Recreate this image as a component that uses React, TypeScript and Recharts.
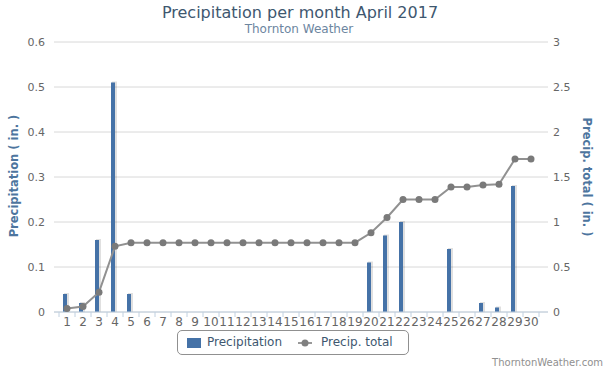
import { ComposedChart, Bar, Line, XAxis, YAxis, CartesianGrid } from 'recharts'

const DAYS = ['1', '2', '3', '4', '5', '6', '7', '8', '9', '10', '11', '12', '13', '14', '15', '16', '17', '18', '19', '20', '21', '22', '23', '24', '25', '26', '27', '28', '29', '30']
const PRECIP = [0.04, 0.02, 0.16, 0.51, 0.04, 0, 0, 0, 0, 0, 0, 0, 0, 0, 0, 0, 0, 0, 0, 0.11, 0.17, 0.2, 0, 0, 0.14, 0, 0.02, 0.01, 0.28, 0]
const TOTAL = [0.04, 0.06, 0.22, 0.73, 0.77, 0.77, 0.77, 0.77, 0.77, 0.77, 0.77, 0.77, 0.77, 0.77, 0.77, 0.77, 0.77, 0.77, 0.77, 0.88, 1.05, 1.25, 1.25, 1.25, 1.39, 1.39, 1.41, 1.42, 1.7, 1.7]
const LEFT_TICKS = [0, 0.1, 0.2, 0.3, 0.4, 0.5, 0.6]
const RIGHT_TICKS = [0, 0.5, 1, 1.5, 2, 2.5, 3]

const data = DAYS.map((d, i) => ({ day: d, precip: PRECIP[i], total: TOTAL[i] }))

const FONT = '"DejaVu Sans", Verdana, sans-serif'

function ColumnShape(props: any) {
  const { x, y, width, height } = props
  if (!height || height <= 0) return null
  const bx = x - 2
  return (
    <g>
      <rect x={bx + 1} y={y - 1} width={width + 1} height={height + 1} fill="#000" opacity={0.12} />
      <rect x={bx} y={y} width={width} height={height} fill="#4572A7" />
    </g>
  )
}

function DayTick(props: any) {
  const { x, y, payload, index } = props
  return (
    <g>
      <line x1={x - 8} x2={x - 8} y1={y} y2={y + 5} stroke="#C0D0E0" />
      {index === DAYS.length - 1 && <line x1={x + 8} x2={x + 8} y1={y} y2={y + 5} stroke="#C0D0E0" />}
      <text x={x} y={y + 14} textAnchor="middle" fontSize={12} fill="#666" fontFamily={FONT}>{payload.value}</text>
    </g>
  )
}

function LegendBox() {
  return (
    <div style={{ position: 'absolute', left: 177, top: 330, width: 232, height: 25, border: '1px solid #909090', borderRadius: 5, boxSizing: 'border-box', fontFamily: FONT, fontSize: 12, color: '#3E576F' }}>
      <div style={{ position: 'absolute', left: 9, top: 7, width: 14, height: 10, background: '#4572A7' }} />
      <div style={{ position: 'absolute', left: 29, top: 4 }}>Precipitation</div>
      <svg style={{ position: 'absolute', left: 120, top: 6 }} width={14} height={12}>
        <line x1={0} x2={14} y1={6} y2={6} stroke="#999" strokeWidth={2} />
        <circle cx={7} cy={6} r={3.5} fill="#808080" />
      </svg>
      <div style={{ position: 'absolute', left: 143, top: 4 }}>Precip. total</div>
    </div>
  )
}

export default function App() {
  return (
    <div style={{ position: 'absolute', left: 0, top: 0, width: 612, height: 375, background: '#fff', fontFamily: FONT }}>
      <div style={{ position: 'absolute', left: 0, width: 600, top: 3, textAlign: 'center', fontSize: 16, color: '#3E576F' }}>Precipitation per month April 2017</div>
      <div style={{ position: 'absolute', left: 0, width: 598, top: 22, textAlign: 'center', fontSize: 12, color: '#6D869F' }}>Thornton Weather</div>
      <div style={{ position: 'absolute', left: 14, top: 176, transform: 'translate(-50%, -50%) rotate(-90deg)', whiteSpace: 'nowrap', fontSize: 11.5, fontWeight: 'bold', color: '#4D759E' }}>Precipitation ( in. )</div>
      <div style={{ position: 'absolute', left: 587, top: 177, transform: 'translate(-50%, -50%) rotate(90deg)', whiteSpace: 'nowrap', fontSize: 11.5, fontWeight: 'bold', color: '#4D759E' }}>Precip. total ( in. )</div>
      <ComposedChart width={612} height={375} data={data} margin={{ top: 42, right: 0, bottom: 33, left: 0 }} style={{ position: 'absolute', left: 0, top: 0 }}>
        <CartesianGrid vertical={false} stroke="#D8D8D8" yAxisId="left" />
        <XAxis dataKey="day" padding={{ left: 5, right: 9 }} height={30} tickLine={false} tickSize={0} tickMargin={0} axisLine={{ stroke: '#C0D0E0' }} interval={0} tick={<DayTick />} />
        <YAxis yAxisId="left" orientation="left" width={54} domain={[0, 0.6]} ticks={LEFT_TICKS} axisLine={false} tickLine={false} tickSize={0} tickMargin={9} tick={{ fontSize: 11, fill: '#666', fontFamily: FONT }} />
        <YAxis yAxisId="right" orientation="right" width={64} domain={[0, 3]} ticks={RIGHT_TICKS} axisLine={false} tickLine={false} tickSize={0} tickMargin={5} tick={{ fontSize: 11, fill: '#666', fontFamily: FONT, textAnchor: 'start' }} />
        <Bar yAxisId="left" dataKey="precip" name="Precipitation" barSize={4} shape={<ColumnShape />} isAnimationActive={false} />
        <Line yAxisId="right" dataKey="total" name="Precip. total" stroke="#919191" strokeWidth={2} dot={{ r: 3.5, fill: '#7a7a7a', stroke: '#7a7a7a', strokeWidth: 0 }} activeDot={false} isAnimationActive={false} />
      </ComposedChart>
      <LegendBox />
      <div style={{ position: 'absolute', right: 9, top: 357, fontSize: 10, color: '#909090' }}>ThorntonWeather.com</div>
    </div>
  )
}
